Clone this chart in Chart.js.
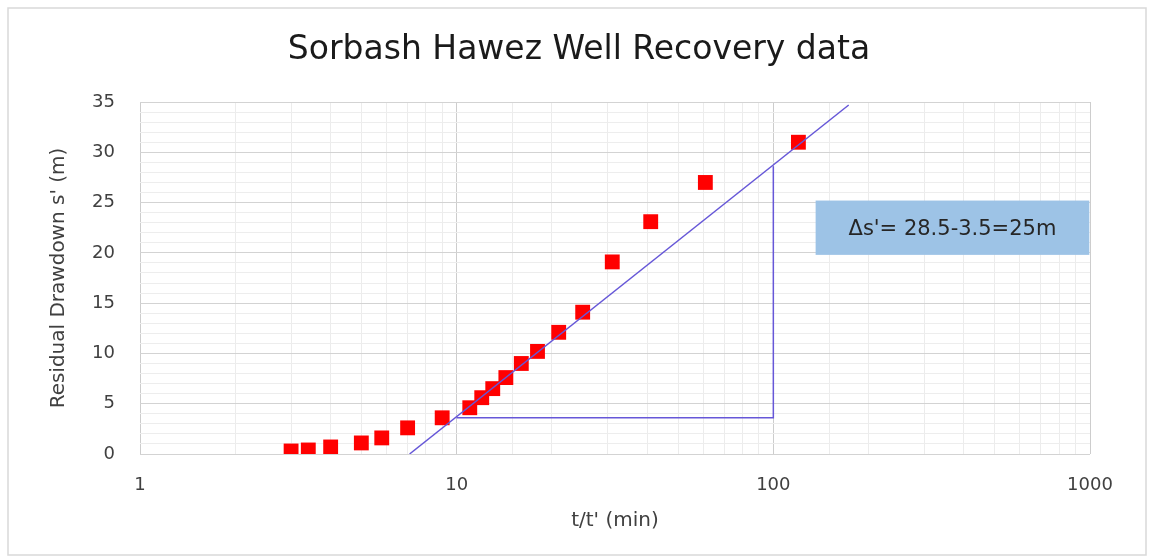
<!DOCTYPE html>
<html>
<head>
<meta charset="utf-8">
<script src="https://cdn.jsdelivr.net/npm/chart.js@4.4.2/dist/chart.umd.min.js"></script>
<style>
  html, body { margin: 0; padding: 0; background: #ffffff; }
  #wrap { width: 1150px; height: 558px; position: relative; }
</style>
</head>
<body>
<div id="wrap"><canvas id="chart" width="1150" height="558"></canvas></div>
<script>
// Recovery data
const tRatio = [3, 3.4, 4, 5, 5.8, 7, 9, 11, 12, 13, 14.3, 16, 18, 21, 25, 31, 41, 61, 120];
const drawdown = [0.3, 0.4, 0.7, 1.1, 1.6, 2.6, 3.6, 4.6, 5.6, 6.5, 7.6, 9.0, 10.2, 12.1, 14.1, 19.1, 23.1, 27.0, 31.0];

// Straight line fitted by hand, and the one-decade triangle
const fitX = [7.1, 173];
const fitY = [0, 34.7];
const triX = [10, 100, 100];
const triY = [3.6, 3.6, 28.6];

// Label box (in data units) and its text
const boxX = [136, 995];
const boxY = [19.8, 25.2];
const boxText = "Δs'= 28.5-3.5=25m";

const xTickLabels = [1, 10, 100, 1000];
const yTickStep = 5;

const FONT = "'DejaVu Sans', sans-serif";
const lineColor = '#6657d8';

const toPoints = (xs, ys) => xs.map((x, i) => ({ x: x, y: ys[i] }));

// frame around the whole chart, like the Excel chart border
const framePlugin = {
    id: 'frame',
    beforeDraw(chart) {
        const ctx = chart.ctx;
        ctx.save();
        ctx.fillStyle = '#ffffff';
        ctx.fillRect(0, 0, chart.width, chart.height);
        ctx.strokeStyle = '#d9d9d9';
        ctx.lineWidth = 1.5;
        ctx.strokeRect(8, 8, 1138, 547);
        ctx.restore();
    }
};

// blue note box with the drawdown difference
const notePlugin = {
    id: 'note',
    afterDatasetsDraw(chart) {
        const { ctx, scales: { x, y } } = chart;
        const left = x.getPixelForValue(boxX[0]);
        const right = x.getPixelForValue(boxX[1]);
        const top = y.getPixelForValue(boxY[1]);
        const bottom = y.getPixelForValue(boxY[0]);
        ctx.save();
        ctx.fillStyle = '#9dc3e6';
        ctx.fillRect(left, top, right - left, bottom - top);
        ctx.fillStyle = '#262626';
        ctx.font = "21px " + FONT;
        ctx.textAlign = 'center';
        ctx.textBaseline = 'middle';
        ctx.fillText(boxText, (left + right) / 2, (top + bottom) / 2 + 2);
        ctx.restore();
    }
};

const isMajorX = v => xTickLabels.includes(Math.round(v * 1000) / 1000);

new Chart(document.getElementById('chart'), {
    type: 'scatter',
    data: {
        datasets: [
            {
                label: 'fit',
                data: toPoints(fitX, fitY),
                showLine: true,
                borderColor: lineColor,
                borderWidth: 1.5,
                pointRadius: 0,
                fill: false
            },
            {
                label: 'triangle',
                data: toPoints(triX, triY),
                showLine: true,
                borderColor: lineColor,
                borderWidth: 1.5,
                pointRadius: 0,
                fill: false
            },
            {
                label: 'Residual drawdown',
                data: toPoints(tRatio, drawdown),
                pointStyle: 'rect',
                pointRadius: 10.5,
                pointBackgroundColor: '#ff0000',
                pointBorderColor: '#ff0000',
                pointBorderWidth: 0,
                showLine: false
            }
        ]
    },
    options: {
        responsive: false,
        animation: false,
        devicePixelRatio: 1,
        layout: { padding: { left: 68, right: 60, top: 0, bottom: 0 } },
        plugins: {
            legend: { display: false },
            tooltip: { enabled: false },
            title: {
                display: true,
                text: 'Sorbash Hawez Well Recovery data',
                color: '#1a1a1a',
                font: { family: FONT, size: 33, weight: 'normal', lineHeight: 1.2 },
                padding: { top: 31, bottom: 31.4 }
            }
        },
        scales: {
            x: {
                type: 'logarithmic',
                min: 1,
                max: 1000,
                border: { display: false },
                grid: {
                    drawTicks: false,
                    color: ctx => isMajorX(ctx.tick.value) ? '#cdcdcd' : '#ececec',
                    lineWidth: 1
                },
                ticks: {
                    autoSkip: false,
                    maxRotation: 0,
                    padding: 21,
                    color: '#404040',
                    font: { family: FONT, size: 18 },
                    callback: v => isMajorX(v) ? String(v) : ''
                },
                title: {
                    display: true,
                    text: "t/t' (min)",
                    color: '#404040',
                    font: { family: FONT, size: 20 },
                    padding: { top: 0, bottom: 25 }
                },
                afterFit: scale => { scale.height = 104; }
            },
            y: {
                min: 0,
                max: 35,
                border: { display: false },
                grid: {
                    drawTicks: false,
                    color: ctx => (ctx.tick.value % yTickStep === 0) ? '#d3d3d3' : '#ededed',
                    lineWidth: 1
                },
                ticks: {
                    stepSize: 1,
                    autoSkip: false,
                    maxTicksLimit: 100,
                    padding: 25,
                    color: '#404040',
                    font: { family: FONT, size: 18 },
                    callback: v => (v % yTickStep === 0) ? String(v) : ''
                },
                title: {
                    display: true,
                    text: "Residual Drawdown s' (m)",
                    color: '#404040',
                    font: { family: FONT, size: 20 },
                    padding: { top: -21, bottom: 0 }
                },
                afterFit: scale => { scale.width = 72; }
            }
        }
    },
    plugins: [framePlugin, notePlugin]
});
</script>
</body>
</html>
